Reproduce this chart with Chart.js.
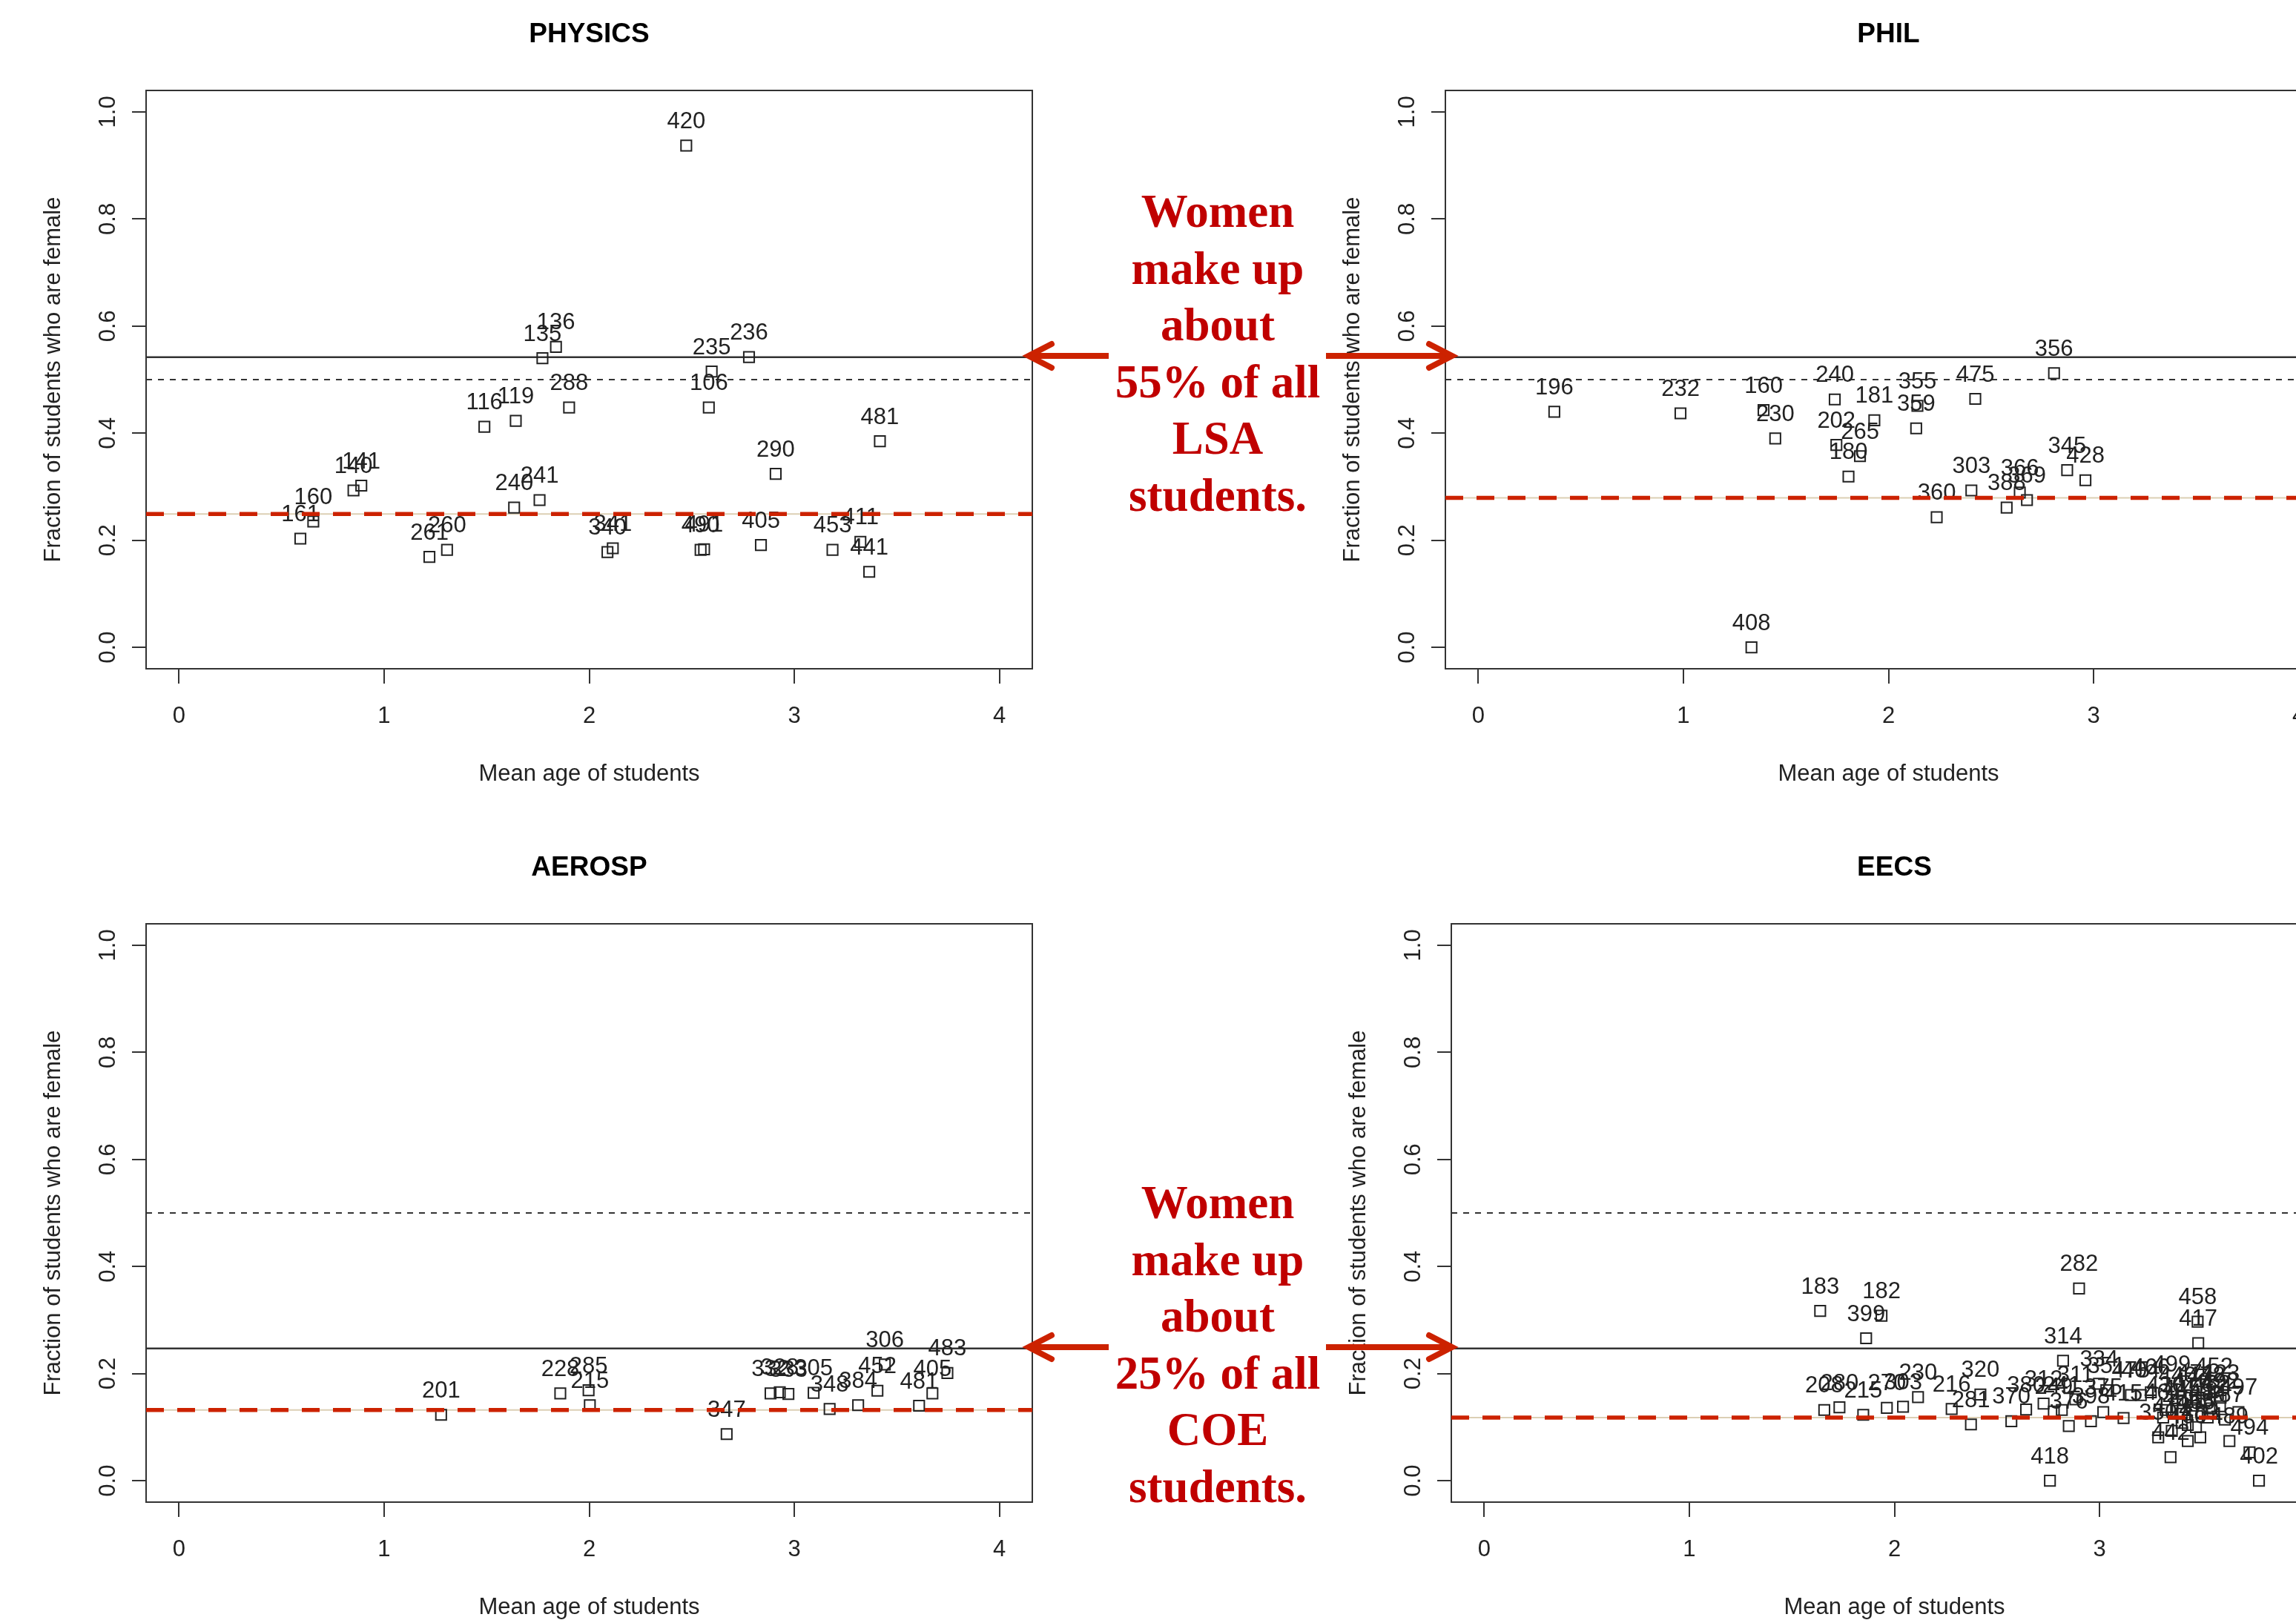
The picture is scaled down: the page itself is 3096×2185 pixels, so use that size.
<!DOCTYPE html>
<html>
<head>
<meta charset="utf-8">
<title>Fraction of students who are female by course</title>
<script src="https://cdn.jsdelivr.net/npm/chart.js@4.4.1/dist/chart.umd.min.js"></script>
<style>
  body { margin: 0; background: #fff; }
  #page { position: relative; width: 3096px; height: 2185px; overflow: hidden; background: #fff; }
  #page canvas { position: absolute; }
</style>
</head>
<body>
<div id="page">
  <canvas id="physics" width="1752" height="1124" style="left:0;top:0"></canvas>
  <canvas id="phil" width="1752" height="1124" style="left:1752px;top:0"></canvas>
  <canvas id="aerosp" width="1752" height="1124" style="left:0;top:1124px"></canvas>
  <canvas id="eecs" width="1752" height="1124" style="left:1760px;top:1124px"></canvas>
  <canvas id="notes" width="3096" height="2185" style="left:0;top:0;pointer-events:none"></canvas>
</div>
<script>
'use strict';

// ************* Data *************
let xTicks = [0, 1, 2, 3, 4];
let yTicks = [0, 0.2, 0.4, 0.6, 0.8, 1.0];

let lsaShare = 0.542;
let coeShare = 0.247;
let parityShare = 0.5;

let physicsCourses = ['420', '136', '135', '235', '236', '106', '288', '116', '119', '481', '290', '141', '140', '241', '240', '160', '161', '260', '261', '341', '340', '491', '490', '405', '453', '411', '441'];
let physicsAge = [2.473, 1.838, 1.772, 2.597, 2.779, 2.583, 1.902, 1.489, 1.642, 3.417, 2.909, 0.889, 0.851, 1.758, 1.634, 0.655, 0.592, 1.307, 1.221, 2.115, 2.089, 2.560, 2.543, 2.837, 3.186, 3.322, 3.365];
let physicsFemale = [0.937, 0.561, 0.540, 0.515, 0.542, 0.448, 0.448, 0.412, 0.423, 0.385, 0.324, 0.302, 0.293, 0.275, 0.261, 0.235, 0.203, 0.182, 0.169, 0.185, 0.178, 0.183, 0.182, 0.191, 0.182, 0.197, 0.141];
let physicsMean = 0.249;

let philCourses = ['196', '232', '160', '230', '240', '181', '202', '265', '180', '355', '359', '475', '356', '345', '428', '303', '366', '369', '388', '360', '408'];
let philAge = [0.371, 0.986, 1.391, 1.448, 1.738, 1.931, 1.746, 1.861, 1.805, 2.141, 2.135, 2.423, 2.807, 2.871, 2.960, 2.404, 2.640, 2.675, 2.576, 2.235, 1.332];
let philFemale = [0.440, 0.437, 0.443, 0.390, 0.463, 0.424, 0.378, 0.357, 0.319, 0.451, 0.409, 0.464, 0.512, 0.331, 0.312, 0.293, 0.289, 0.275, 0.261, 0.243, 0.000];
let philMean = 0.279;

let aerospCourses = ['201', '228', '285', '215', '347', '332', '328', '333', '305', '348', '384', '452', '306', '481', '405', '483'];
let aerospAge = [1.278, 1.859, 1.997, 2.003, 2.670, 2.884, 2.929, 2.971, 3.094, 3.172, 3.311, 3.405, 3.441, 3.608, 3.673, 3.746];
let aerospFemale = [0.123, 0.163, 0.169, 0.141, 0.087, 0.163, 0.165, 0.162, 0.164, 0.134, 0.141, 0.168, 0.217, 0.140, 0.163, 0.201];
let aerospMean = 0.132;

let eecsCourses = ['183', '182', '399', '208', '280', '215', '270', '303', '230', '216', '320', '281', '370', '380', '312', '249', '241', '311', '376', '282', '314', '418', '334', '351', '398', '375', '415', '475', '404', '466', '499', '350', '442', '412', '460', '483', '425', '430', '440', '445', '470', '471', '473', '478', '482', '484', '489', '452', '423', '497', '487', '492', '458', '417', '494', '402', '461', '455', '465'];
let eecsAge = [1.638, 1.937, 1.862, 1.658, 1.732, 1.848, 1.963, 2.042, 2.115, 2.279, 2.419, 2.373, 2.570, 2.642, 2.727, 2.777, 2.816, 2.882, 2.850, 2.900, 2.822, 2.758, 2.997, 3.033, 2.958, 3.018, 3.117, 3.153, 3.201, 3.250, 3.352, 3.286, 3.346, 3.352, 3.430, 3.491, 3.430, 3.322, 3.380, 3.400, 3.450, 3.470, 3.500, 3.520, 3.545, 3.527, 3.633, 3.557, 3.590, 3.677, 3.611, 3.587, 3.478, 3.481, 3.731, 3.777, 3.310, 3.400, 3.470];
let eecsFemale = [0.317, 0.308, 0.266, 0.132, 0.137, 0.123, 0.136, 0.138, 0.156, 0.134, 0.161, 0.105, 0.111, 0.133, 0.144, 0.129, 0.132, 0.152, 0.102, 0.359, 0.224, 0.000, 0.181, 0.169, 0.111, 0.128, 0.117, 0.160, 0.160, 0.165, 0.171, 0.081, 0.044, 0.093, 0.074, 0.081, 0.104, 0.132, 0.150, 0.125, 0.140, 0.155, 0.128, 0.150, 0.135, 0.118, 0.074, 0.167, 0.155, 0.128, 0.114, 0.139, 0.297, 0.257, 0.053, 0.000, 0.118, 0.108, 0.100];
let eecsMean = 0.118;

// ************* Style *************
const SANS = '"Liberation Sans", Arial, sans-serif';
const SERIF = '"Liberation Serif", "Times New Roman", serif';
const INK = '#222';
const RED = '#cc2200';
const X_MIN = -0.16;
const X_MAX = 4.16;

// ************* Plugins *************
// box, rotated y labels, y title and main title, drawn the way R does it
let rStyle = {
  id: 'rStyle',
  beforeDatasetsDraw(chart, args, opts) {
    let ctx = chart.ctx;
    let a = chart.chartArea;
    let y = chart.scales.y;
    ctx.save();
    ctx.strokeStyle = '#333';
    ctx.lineWidth = 2;
    ctx.strokeRect(a.left, a.top, a.right - a.left, a.bottom - a.top);

    ctx.fillStyle = INK;
    ctx.textAlign = 'center';
    ctx.textBaseline = 'middle';
    ctx.font = '31px ' + SANS;
    yTicks.forEach(v => {
      ctx.save();
      ctx.translate(146, y.getPixelForValue(v));
      ctx.rotate(-Math.PI / 2);
      ctx.fillText(v.toFixed(1), 0, 0);
      ctx.restore();
    });

    ctx.save();
    ctx.translate(72, (a.top + a.bottom) / 2);
    ctx.rotate(-Math.PI / 2);
    ctx.fillText('Fraction of students who are female', 0, 0);
    ctx.restore();

    ctx.font = 'bold 37px ' + SANS;
    ctx.fillStyle = '#000';
    ctx.fillText(opts.title, (a.left + a.right) / 2, 47);
    ctx.restore();
  }
};

// course numbers written just above each square
let courseLabels = {
  id: 'courseLabels',
  afterDatasetDraw(chart, args) {
    let ds = chart.data.datasets[args.index];
    if (!ds.courses) return;
    let ctx = chart.ctx;
    ctx.save();
    ctx.fillStyle = INK;
    ctx.font = '31px ' + SANS;
    ctx.textAlign = 'center';
    ctx.textBaseline = 'middle';
    args.meta.data.forEach((pt, i) => {
      ctx.fillText(ds.courses[i], pt.x, pt.y - 32);
    });
    ctx.restore();
  }
};

// ************* Helpers *************
function across(v) {
  return [{x: X_MIN, y: v}, {x: X_MAX, y: v}];
}

function makePanel(canvasId, title, courses, ages, female, collegeShare, deptMean) {
  let points = ages.map((age, i) => ({x: age, y: female[i]}));

  let config = {
    type: 'scatter',
    data: {
      datasets: [
        {
          label: 'department mean',
          data: across(deptMean),
          showLine: true,
          borderColor: RED,
          borderWidth: 5.5,
          borderDash: [24, 18],
          pointRadius: 0,
          order: 0
        },
        {
          label: 'courses',
          courses: courses,
          data: points,
          pointStyle: 'rect',
          pointRadius: 10,
          pointHoverRadius: 10,
          borderColor: INK,
          borderWidth: 2,
          backgroundColor: 'rgba(0,0,0,0)',
          order: 1
        },
        {
          label: 'department mean underlay',
          data: across(deptMean),
          showLine: true,
          borderColor: '#dccfb4',
          borderWidth: 2,
          pointRadius: 0,
          order: 2
        },
        {
          label: 'college share',
          data: across(collegeShare),
          showLine: true,
          borderColor: '#333',
          borderWidth: 2.5,
          pointRadius: 0,
          order: 3
        },
        {
          label: 'parity',
          data: across(parityShare),
          showLine: true,
          borderColor: '#333',
          borderWidth: 2,
          borderDash: [8, 8],
          pointRadius: 0,
          order: 3
        }
      ]
    },
    options: {
      responsive: false,
      animation: false,
      events: [],
      layout: {padding: {top: 122, right: 360, left: 0, bottom: 0}},
      plugins: {
        legend: {display: false},
        tooltip: {enabled: false},
        rStyle: {title: title}
      },
      scales: {
        x: {
          type: 'linear',
          min: X_MIN,
          max: X_MAX,
          afterBuildTicks: s => { s.ticks = xTicks.map(v => ({value: v})); },
          afterFit: s => { s.height = 222; },
          border: {display: false},
          grid: {drawOnChartArea: false, drawTicks: true, tickLength: 20, color: '#333', lineWidth: 2},
          ticks: {font: {family: SANS, size: 31}, color: INK, padding: 26, maxRotation: 0},
          title: {display: true, text: 'Mean age of students', font: {family: SANS, size: 31}, color: INK, padding: {top: 0, bottom: 61}}
        },
        y: {
          type: 'linear',
          min: -0.04,
          max: 1.04,
          afterBuildTicks: s => { s.ticks = yTicks.map(v => ({value: v})); },
          afterFit: s => { s.width = 197; },
          border: {display: false},
          grid: {drawOnChartArea: false, drawTicks: true, tickLength: 19, color: '#333', lineWidth: 2},
          ticks: {display: false}
        }
      }
    },
    plugins: [rStyle, courseLabels]
  };

  new Chart(document.getElementById(canvasId), config);
}

// ************* Charts *************
makePanel('physics', 'PHYSICS', physicsCourses, physicsAge, physicsFemale, lsaShare, physicsMean);
makePanel('phil', 'PHIL', philCourses, philAge, philFemale, lsaShare, philMean);
makePanel('aerosp', 'AEROSP', aerospCourses, aerospAge, aerospFemale, coeShare, aerospMean);
makePanel('eecs', 'EECS', eecsCourses, eecsAge, eecsFemale, coeShare, eecsMean);

// ************* Call-outs between the panels *************
let notes = document.getElementById('notes').getContext('2d');

function drawArrow(ctx, fromX, tipX, y) {
  let dir = tipX > fromX ? 1 : -1;
  ctx.save();
  ctx.strokeStyle = RED;
  ctx.lineWidth = 8;
  ctx.lineCap = 'butt';
  ctx.beginPath();
  ctx.moveTo(fromX, y);
  ctx.lineTo(tipX - dir * 3, y);
  ctx.stroke();
  ctx.lineCap = 'round';
  ctx.lineJoin = 'miter';
  ctx.beginPath();
  ctx.moveTo(tipX - dir * 31, y - 16);
  ctx.lineTo(tipX, y);
  ctx.lineTo(tipX - dir * 31, y + 16);
  ctx.stroke();
  ctx.restore();
}

function drawNote(ctx, lines, firstBaseline, arrowY) {
  ctx.save();
  ctx.fillStyle = '#c00000';
  ctx.font = 'bold 63px ' + SERIF;
  ctx.textAlign = 'center';
  ctx.textBaseline = 'alphabetic';
  lines.forEach((line, i) => {
    ctx.fillText(line, 1642, firstBaseline + i * 76.5);
  });
  ctx.restore();
  drawArrow(ctx, 1495, 1387, arrowY);
  drawArrow(ctx, 1788, 1958, arrowY);
}

drawNote(notes, ['Women', 'make up', 'about', '55% of all', 'LSA', 'students.'], 306, 480);
drawNote(notes, ['Women', 'make up', 'about', '25% of all', 'COE', 'students.'], 1643, 1817);
</script>
</body>
</html>
